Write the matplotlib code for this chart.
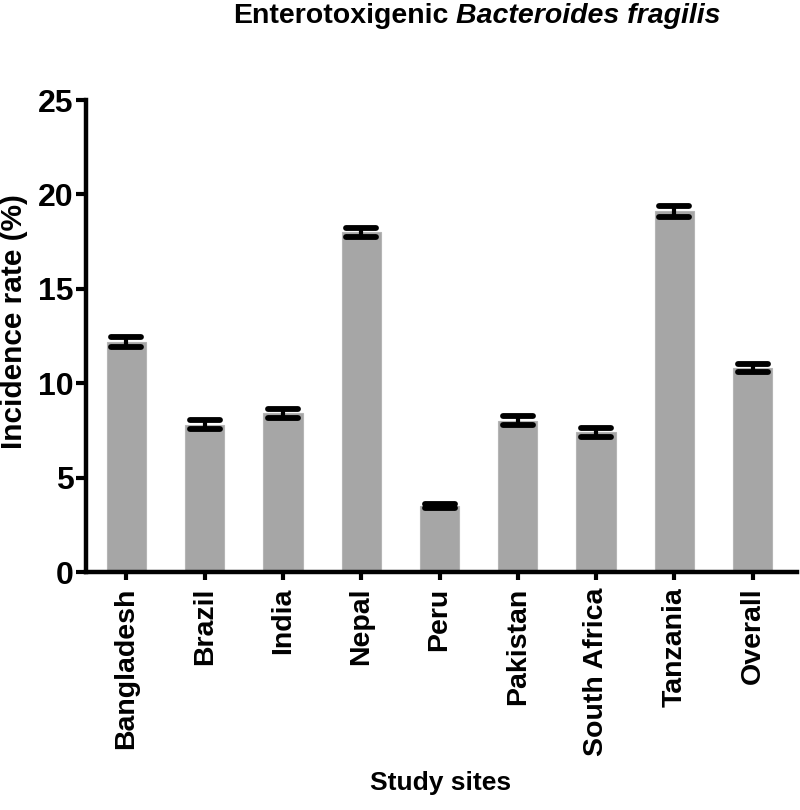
import matplotlib
matplotlib.use("Agg")
import matplotlib.pyplot as plt
from matplotlib.markers import MarkerStyle
import numpy as np

sites = ["Bangladesh", "Brazil", "India", "Nepal", "Peru", "Pakistan",
         "South Africa", "Tanzania", "Overall"]
incidence = [12.2, 7.8, 8.4, 18.0, 3.5, 8.0, 7.4, 19.1, 10.8]
errors = [0.26, 0.25, 0.24, 0.24, 0.10, 0.24, 0.24, 0.29, 0.23]
yticks = [0, 5, 10, 15, 20, 25]

plt.rcParams['font.family'] = ['Liberation Sans', 'DejaVu Sans']
plt.rcParams['font.weight'] = 'bold'

W, H = 800, 810
fig = plt.figure(figsize=(W / 100, H / 100), dpi=100)
ax = fig.add_axes([86 / W, 1 - 572 / H, (797 - 86) / W, 472 / H])

x = np.arange(len(sites))
ax.bar(x, incidence, width=0.5, color='#a6a6a6', edgecolor='#b5b5b5',
       linewidth=0.8, zorder=2)
eb = ax.errorbar(x, incidence, yerr=errors, fmt='none', ecolor='black',
                 elinewidth=3, capsize=11, capthick=4.2, zorder=3)
for cl in eb[1]:
    cl.set_marker(MarkerStyle('_', capstyle='round'))

ax.set_xlim(-0.517, 8.568)
ax.set_ylim(0, 25)
ax.set_yticks(yticks)
ax.set_yticklabels([str(v) for v in yticks], fontsize=23, fontweight='bold')
ax.set_xticks(x)
ax.set_xticklabels(sites, rotation=90, fontsize=20.5, fontweight='bold')

for s in ['top', 'right']:
    ax.spines[s].set_visible(False)
for s in ['left', 'bottom']:
    ax.spines[s].set_linewidth(3.2)
    ax.spines[s].set_capstyle('projecting')
ax.tick_params(axis='y', length=7, width=3, pad=2)
ax.tick_params(axis='x', length=6, width=3, pad=5)

fig.text(14 / W, 1 - 322 / H, "Incidence rate (%)", rotation=90,
         ha='center', va='center', fontsize=21.5, fontweight='bold')
fig.text(441 / W, 1 - 783 / H, "Study sites", ha='center', va='center',
         fontsize=19, fontweight='bold')

# Title: mixed upright / italic
fig.canvas.draw()
renderer = fig.canvas.get_renderer()
ty = 1 - 23 / H
t1 = fig.text(233 / W, ty, "Enterotoxigenic", ha='left', va='baseline',
              fontsize=20.5, fontweight='bold')
bb = t1.get_window_extent(renderer)
space = 0.278 * 20.5 * 100 / 72
fig.text((bb.x1 + space) / W, ty, "Bacteroides fragilis", ha='left',
         va='baseline', fontsize=20.5, fontweight='bold', style='italic')

fig.savefig("out.png", dpi=100)
